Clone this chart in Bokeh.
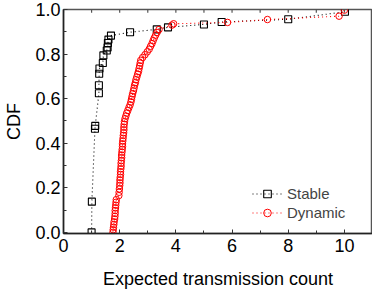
from bokeh.plotting import figure
from bokeh.models import FixedTicker, PrintfTickFormatter, Range1d, Legend, LegendItem
from bokeh.embed import file_html
from bokeh.resources import INLINE

stable_x = [1.0, 1.01, 1.12, 1.13, 1.26, 1.26, 1.27, 1.28, 1.40, 1.42, 1.54, 1.57, 1.58, 1.60, 1.69,
            2.37, 3.32, 3.72, 5.0, 5.63, 8.0, 10.02]
stable_y = [0.0, 0.138, 0.465, 0.478, 0.624, 0.66, 0.712, 0.735, 0.76, 0.794, 0.816, 0.83, 0.85, 0.865, 0.883,
            0.898, 0.911, 0.92, 0.933, 0.944, 0.956, 0.99]

dyn_x = [1.76, 1.77, 1.78, 1.79, 1.80, 1.82, 1.83, 1.84, 1.84, 1.85, 1.86, 1.87, 1.88,
         1.97, 1.98, 1.99, 2.00, 2.01, 2.01, 2.02, 2.03, 2.03, 2.04, 2.05, 2.05, 2.06, 2.07,
         2.07, 2.08, 2.09, 2.10, 2.10, 2.11, 2.12, 2.13, 2.14, 2.15, 2.15, 2.16, 2.17, 2.19,
         2.22, 2.25, 2.29, 2.33, 2.37, 2.40, 2.42, 2.44, 2.46, 2.49, 2.51, 2.53, 2.56, 2.58,
         2.61, 2.64, 2.67, 2.69, 2.71, 2.73, 2.75, 2.82, 2.90, 2.98, 3.05, 3.10, 3.15, 3.19,
         3.23, 3.28, 3.33, 3.40, 3.86, 3.92, 5.84, 7.26, 9.81, 10.0]
dyn_y = [0.0, 0.012, 0.023, 0.035, 0.047, 0.06, 0.072, 0.085, 0.098, 0.11, 0.122, 0.135, 0.147,
         0.165, 0.18, 0.195, 0.21, 0.222, 0.235, 0.247, 0.26, 0.272, 0.285, 0.297, 0.31, 0.322, 0.335,
         0.347, 0.36, 0.372, 0.385, 0.397, 0.41, 0.422, 0.435, 0.447, 0.46, 0.472, 0.485, 0.497, 0.51,
         0.522, 0.535, 0.547, 0.56, 0.572, 0.585, 0.597, 0.61, 0.622, 0.635, 0.647, 0.66, 0.672, 0.685,
         0.697, 0.71, 0.722, 0.735, 0.747, 0.76, 0.772, 0.785, 0.797, 0.81, 0.822, 0.835, 0.847, 0.86,
         0.872, 0.885, 0.897, 0.91, 0.93, 0.936, 0.942, 0.955, 0.97, 0.997]

x_major = [0, 2, 4, 6, 8, 10]
x_minor = [1, 3, 5, 7, 9, 11]
y_major = [0.0, 0.2, 0.4, 0.6, 0.8, 1.0]
y_minor = [0.1, 0.3, 0.5, 0.7, 0.9]

FONT = "Liberation Sans"

p = figure(width=372, height=291, output_backend="svg", toolbar_location=None,
           x_range=Range1d(0, 11), y_range=Range1d(-0.005, 1.0),
           min_border_left=63, min_border_right=0, min_border_top=9, min_border_bottom=58)
p.grid.visible = False
p.outline_line_color = "#555555"
p.outline_line_width = 1.5
p.background_fill_color = "white"
p.border_fill_color = "white"

for ax in (p.xaxis[0], p.yaxis[0]):
    ax.axis_line_color = "#222222"
    ax.axis_line_width = 1.5
    ax.major_tick_in = 4
    ax.major_tick_out = 0
    ax.minor_tick_in = 3
    ax.minor_tick_out = 0
    ax.major_tick_line_color = "#333333"
    ax.minor_tick_line_color = "#333333"
    ax.major_label_text_font = FONT
    ax.major_label_text_font_size = "18px"
    ax.major_label_text_color = "black"
    ax.axis_label_text_font = FONT
    ax.axis_label_text_font_size = "18px"
    ax.axis_label_text_font_style = "normal"
    ax.axis_label_text_color = "black"

p.xaxis[0].ticker = FixedTicker(ticks=x_major, minor_ticks=x_minor)
p.yaxis[0].ticker = FixedTicker(ticks=y_major, minor_ticks=y_minor)
p.yaxis[0].formatter = PrintfTickFormatter(format="%.1f")
p.xaxis[0].axis_label = "Expected transmission count"
p.yaxis[0].axis_label = "CDF"
p.xaxis[0].major_label_standoff = 5
p.xaxis[0].axis_label_standoff = 14
p.yaxis[0].major_label_standoff = 3
p.yaxis[0].axis_label_standoff = 8

# short inward ticks along the top frame, at the x tick positions
top_ticks = x_major + x_minor
p.segment(x0=top_ticks, y0=[1.0] * len(top_ticks), x1=top_ticks, y1=[0.985] * len(top_ticks),
          line_color="#555555", line_width=1.2)

l1 = p.line(stable_x, stable_y, line_color="black", line_width=1.1, line_dash="1 3")
s1 = p.scatter(stable_x, stable_y, marker="square", size=7, fill_color=None,
               line_color="black", line_width=1.1)
l2 = p.line(dyn_x, dyn_y, line_color="#ff0000", line_width=1.1, line_dash="1 3")
s2 = p.scatter(dyn_x, dyn_y, marker="circle", size=6.5, fill_color=None,
               line_color="#ff0000", line_width=1.0)

legend = Legend(items=[LegendItem(label="Stable", renderers=[l1, s1]),
                       LegendItem(label="Dynamic", renderers=[l2, s2])],
                location=(189, 11), orientation="vertical")
legend.background_fill_alpha = 0
legend.border_line_color = None
legend.padding = 0
legend.margin = 0
legend.spacing = 0
legend.glyph_width = 30
legend.glyph_height = 19
legend.label_height = 19
legend.label_standoff = 5
legend.label_text_font = FONT
legend.label_text_font_size = "15px"
p.add_layout(legend, "center")

open("out.html", "w").write(file_html(p, INLINE))
